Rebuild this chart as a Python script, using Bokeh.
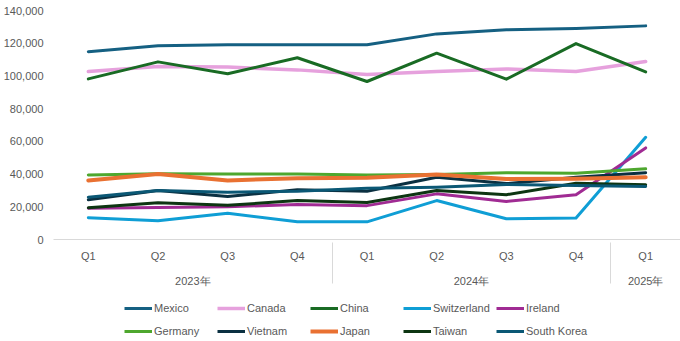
from bokeh.plotting import figure
from bokeh.layouts import column
from bokeh.models import FactorRange, Legend, LegendItem, NumeralTickFormatter, FixedTicker, Range1d
from bokeh.embed import file_html
from bokeh.resources import INLINE

years = ["2023年"] * 4 + ["2024年"] * 4 + ["2025年"]
quarters = ["Q1", "Q2", "Q3", "Q4", "Q1", "Q2", "Q3", "Q4", "Q1"]
y_ticks = [0, 20000, 40000, 60000, 80000, 100000, 120000, 140000]

mexico = [114800, 118400, 119000, 119000, 119000, 125700, 128200, 129000, 130600]
canada = [102700, 105800, 105400, 103700, 100900, 102700, 104300, 102700, 108800]
china = [98200, 108600, 101300, 111100, 96600, 113900, 98000, 119800, 102500]
switzerland = [13300, 11400, 16100, 10800, 10800, 23800, 12700, 13200, 62500]
ireland = [19100, 19600, 20000, 21400, 20700, 27900, 23300, 27400, 56000]
germany = [39500, 40200, 40100, 40100, 39400, 39800, 40800, 40500, 43200]
vietnam = [24300, 30000, 26300, 30400, 29500, 38100, 34200, 38000, 40800]
japan = [36100, 40100, 36100, 37500, 37700, 39700, 37000, 37100, 38100]
taiwan = [19400, 22400, 20900, 23800, 22600, 30000, 27400, 34400, 33400]
south_korea = [25900, 30000, 28900, 29500, 31300, 32000, 33600, 33000, 32400]

series = [
    ("Mexico", mexico, "#156082", 3),
    ("Canada", canada, "#E6A1DD", 3.5),
    ("China", china, "#196B24", 3),
    ("Switzerland", switzerland, "#0F9ED5", 3),
    ("Ireland", ireland, "#A02B93", 3),
    ("Germany", germany, "#4EA72E", 3),
    ("Vietnam", vietnam, "#0B3041", 3),
    ("Japan", japan, "#E97132", 4),
    ("Taiwan", taiwan, "#0D3512", 3),
    ("South Korea", south_korea, "#0B5875", 3),
]

FONT = "Liberation Sans"
FS = "11px"
TXT = "#595959"

x = list(zip(years, quarters))
p = figure(
    x_range=FactorRange(*x, factor_padding=0, group_padding=0, subgroup_padding=0, range_padding=0),
    y_range=Range1d(0, 140000),
    width=680, height=298,
    output_backend="svg", toolbar_location=None,
    min_border_left=53, min_border_right=0, min_border_top=10, min_border_bottom=59,
)
p.outline_line_color = None
p.xgrid.visible = False
p.ygrid.visible = False

for name, vals, color, lw in series:
    p.line(x=x, y=vals, line_color=color, line_width=lw, line_join="round", line_cap="round")

p.yaxis.ticker = FixedTicker(ticks=y_ticks)
p.yaxis.formatter = NumeralTickFormatter(format="0,0")
p.yaxis.axis_line_color = None
p.yaxis.major_tick_line_color = None
p.yaxis.minor_tick_line_color = None
p.yaxis.major_tick_in = 0
p.yaxis.major_tick_out = 0
p.yaxis.minor_tick_in = 0
p.yaxis.minor_tick_out = 0
p.yaxis.major_label_standoff = 10
p.yaxis.major_label_text_font = FONT
p.yaxis.major_label_text_font_size = FS
p.yaxis.major_label_text_color = TXT

xa = p.xaxis[0]
xa.axis_line_color = "#D9D9D9"
xa.axis_line_width = 1
xa.major_tick_line_color = None
xa.minor_tick_line_color = None
xa.major_tick_in = 0
xa.major_tick_out = 0
xa.minor_tick_in = 0
xa.minor_tick_out = 0
xa.major_label_standoff = 10
xa.major_label_text_font = FONT
xa.major_label_text_font_size = FS
xa.major_label_text_color = TXT
xa.group_text_font = FONT
xa.group_text_font_size = FS
xa.group_text_font_style = "normal"
xa.group_text_color = TXT
xa.separator_line_color = "#D9D9D9"
xa.separator_line_width = 1

# legend strip below the chart (series drawn outside its visible y-range,
# only used to feed the legend glyphs)
lg = figure(
    x_range=FactorRange(*x, factor_padding=0, group_padding=0, subgroup_padding=0, range_padding=0),
    y_range=Range1d(-2, -1),
    width=680, height=43, output_backend="svg", toolbar_location=None,
    x_axis_type=None, y_axis_type=None,
    min_border_left=0, min_border_right=0, min_border_top=0, min_border_bottom=0,
)
lg.outline_line_color = None
lg.grid.visible = False
items = []
for name, vals, color, lw in series:
    r = lg.line(x=x, y=vals, line_color=color, line_width=lw)
    items.append(LegendItem(label=name, renderers=[r]))

legend = Legend(
    items=items, ncols=5, orientation="horizontal",
    location=(71, 0),
    glyph_width=28, glyph_height=20, label_height=20, label_width=60,
    label_standoff=2, spacing=3, padding=0, margin=0,
    border_line_color=None, background_fill_alpha=0,
    label_text_font=FONT, label_text_font_size=FS, label_text_color=TXT,
)
lg.add_layout(legend, "center")

layout = column(p, lg, spacing=0)
open("out.html", "w").write(file_html(layout, INLINE))
